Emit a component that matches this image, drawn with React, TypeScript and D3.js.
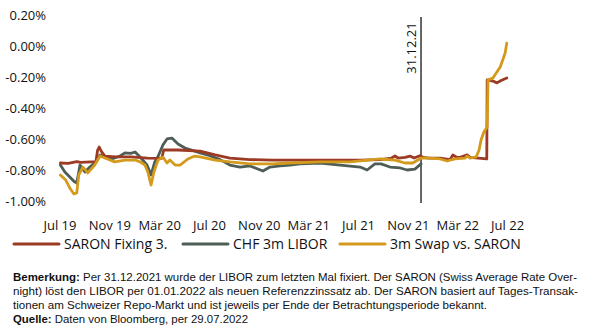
import React from "react";
import * as d3 from "d3";

const saronDates = ["2019-08-01","2019-08-20","2019-09-10","2019-09-20","2019-10-15","2019-10-27","2019-10-31","2019-11-04","2019-11-10","2019-11-18","2019-12-15","2020-01-20","2020-03-01","2020-04-05","2020-04-10","2020-05-15","2020-07-08","2020-08-14","2020-09-19","2020-11-07","2021-01-01","2021-04-28","2021-08-04","2021-09-22","2021-10-20","2021-10-28","2021-11-05","2021-11-22","2021-12-04","2021-12-14","2021-12-28","2022-01-05","2022-01-20","2022-02-16","2022-03-12","2022-03-19","2022-03-28","2022-04-06","2022-04-23","2022-04-30","2022-06-10","2022-06-11","2022-06-25","2022-07-05","2022-07-15","2022-07-29"];
const saronValues = [-0.742,-0.745,-0.733,-0.738,-0.735,-0.733,-0.66,-0.639,-0.67,-0.697,-0.703,-0.703,-0.71,-0.712,-0.658,-0.658,-0.665,-0.69,-0.71,-0.72,-0.723,-0.723,-0.723,-0.72,-0.71,-0.697,-0.71,-0.705,-0.697,-0.71,-0.695,-0.705,-0.71,-0.71,-0.72,-0.69,-0.705,-0.705,-0.69,-0.705,-0.716,-0.206,-0.213,-0.225,-0.21,-0.194];

const liborDates = ["2019-08-01","2019-08-12","2019-08-24","2019-09-03","2019-09-10","2019-09-15","2019-09-18","2019-09-30","2019-10-12","2019-10-27","2019-11-06","2019-11-18","2019-12-05","2019-12-25","2020-01-06","2020-01-20","2020-01-31","2020-02-12","2020-02-29","2020-03-10","2020-03-19","2020-03-27","2020-04-08","2020-04-18","2020-04-30","2020-05-15","2020-06-01","2020-06-25","2020-07-08","2020-08-01","2020-08-26","2020-09-19","2020-10-14","2020-11-07","2020-12-09","2020-12-26","2021-01-20","2021-02-13","2021-03-10","2021-04-28","2021-06-16","2021-08-04","2021-08-21","2021-09-09","2021-09-24","2021-10-16","2021-11-10","2021-11-27","2021-12-16","2021-12-31"];
const liborValues = [-0.755,-0.80,-0.832,-0.86,-0.871,-0.80,-0.755,-0.80,-0.768,-0.735,-0.69,-0.703,-0.716,-0.697,-0.677,-0.68,-0.671,-0.703,-0.755,-0.819,-0.735,-0.70,-0.626,-0.587,-0.581,-0.619,-0.645,-0.665,-0.677,-0.695,-0.72,-0.755,-0.768,-0.761,-0.794,-0.768,-0.761,-0.755,-0.748,-0.742,-0.755,-0.768,-0.787,-0.748,-0.748,-0.768,-0.774,-0.787,-0.781,-0.748];

const swapDates = ["2019-08-01","2019-08-14","2019-08-24","2019-09-03","2019-09-10","2019-09-15","2019-09-25","2019-10-07","2019-10-24","2019-11-06","2019-11-18","2019-12-12","2020-01-06","2020-01-31","2020-02-12","2020-02-24","2020-03-02","2020-03-10","2020-03-17","2020-03-27","2020-04-08","2020-04-18","2020-04-25","2020-05-08","2020-05-20","2020-06-08","2020-06-25","2020-07-08","2020-08-14","2020-09-19","2020-11-07","2021-01-01","2021-02-13","2021-04-28","2021-07-10","2021-09-22","2021-10-28","2021-11-22","2021-12-11","2021-12-31","2022-01-22","2022-02-16","2022-03-05","2022-03-24","2022-04-18","2022-04-23","2022-04-30","2022-05-15","2022-05-22","2022-05-27","2022-06-03","2022-06-11","2022-06-13","2022-06-25","2022-07-13","2022-07-25","2022-07-29"];
const swapValues = [-0.819,-0.852,-0.903,-0.942,-0.935,-0.819,-0.768,-0.806,-0.755,-0.697,-0.71,-0.735,-0.723,-0.723,-0.735,-0.755,-0.80,-0.884,-0.80,-0.723,-0.703,-0.742,-0.723,-0.755,-0.755,-0.716,-0.697,-0.703,-0.723,-0.735,-0.748,-0.748,-0.742,-0.735,-0.735,-0.716,-0.723,-0.742,-0.742,-0.71,-0.71,-0.716,-0.729,-0.716,-0.71,-0.697,-0.71,-0.703,-0.66,-0.594,-0.542,-0.510,-0.206,-0.194,-0.123,-0.032,0.032];

const seriesNames = ["SARON Fixing 3.", "CHF 3m LIBOR", "3m Swap vs. SARON"];
const seriesColors = ["#9C3A24", "#4E5D55", "#D39A1C"];

const yTicks = [-1.0, -0.8, -0.6, -0.4, -0.2, 0.0, 0.2];
const xTickDates = ["2019-07-31","2019-11-30","2020-03-31","2020-07-31","2020-11-30","2021-03-31","2021-07-31","2021-11-30","2022-03-31","2022-07-31"];
const xTickLabels = ["Jul 19","Nov 19","Mär 20","Jul 20","Nov 20","Mär 21","Jul 21","Nov 21","Mär 22","Jul 22"];
const markerDate = "2021-12-31";
const markerLabel = "31.12.21";

const noteLines = [
  { bold: "Bemerkung:", text: " Per 31.12.2021 wurde der LIBOR zum letzten Mal fixiert. Der SARON (Swiss Average Rate Over-" },
  { bold: "", text: "night) löst den LIBOR per 01.01.2022 als neuen Referenzzinssatz ab. Der SARON basiert auf Tages-Transak-" },
  { bold: "", text: "tionen am Schweizer Repo-Markt und ist jeweils per Ende der Betrachtungsperiode bekannt." },
  { bold: "Quelle:", text: " Daten von Bloomberg, per 29.07.2022" },
];

const parse = d3.timeParse("%Y-%m-%d");

export default function App() {
  const W = 594, H = 329;
  const x = d3.scaleTime().domain([parse("2019-07-31")!, parse("2022-07-31")!]).range([60, 507.6]);
  const y = d3.scaleLinear().domain([-1.0, 0.2]).range([203, 17]);
  const line = d3.line<[Date, number]>().x(d => x(d[0])).y(d => y(d[1])).curve(d3.curveLinear);

  const series = [
    saronDates.map((d, i) => [parse(d)!, saronValues[i]] as [Date, number]),
    liborDates.map((d, i) => [parse(d)!, liborValues[i]] as [Date, number]),
    swapDates.map((d, i) => [parse(d)!, swapValues[i]] as [Date, number]),
  ];
  const order = [1, 0, 2];
  const fmt = (v: number) => (v < 0 ? "-" : "") + Math.abs(v).toFixed(2) + "%";
  const mx = x(parse(markerDate)!);
  const font = "'Open Sans', 'Noto Sans', sans-serif";
  const narrow = "'Liberation Sans Narrow', 'Arial Narrow', 'Liberation Sans', Arial, sans-serif";

  const legendX = [14, 183, 340];
  const noteLens = [564, 565, 474, 235];

  return (
    <svg width={W} height={H} style={{ position: "absolute", left: 0, top: 0, background: "#fff" }}>
      {yTicks.map(t => (
        <text key={t} x={46} y={y(t)} textAnchor="end" dominantBaseline="middle" fontFamily={font} fontSize={13} fill="#111">
          {fmt(t)}
        </text>
      ))}
      {xTickDates.map((d, i) => (
        <text key={d} x={x(parse(d)!)} y={230} textAnchor="middle" fontFamily={font} fontSize={13} fill="#111">
          {xTickLabels[i]}
        </text>
      ))}
      <line x1={mx} x2={mx} y1={y(0.2)} y2={y(-1.0)} stroke="#000" strokeWidth={1.2} />
      <text transform={`translate(${mx - 5},${48}) rotate(-90)`} textAnchor="middle" fontFamily={font} fontSize={13} fill="#111">
        {markerLabel}
      </text>
      {order.map(i => (
        <path key={i} d={line(series[i]) || ""} fill="none" stroke={seriesColors[i]} strokeWidth={2.8} strokeLinejoin="round" strokeLinecap="round" />
      ))}
      {seriesNames.map((n, i) => (
        <g key={n}>
          <line x1={legendX[i]} x2={legendX[i] + 45} y1={244} y2={244} stroke={seriesColors[i]} strokeWidth={3} strokeLinecap="round" />
          <text x={legendX[i] + 50} y={249} fontFamily={font} fontSize={14} fill="#111">{n}</text>
        </g>
      ))}
      {noteLines.map((l, i) => (
        <text key={i} x={13} y={281 + i * 14} fontFamily={narrow} fontSize={11} fill="#111" textLength={noteLens[i]} lengthAdjust="spacingAndGlyphs">
          {l.bold && <tspan fontWeight="bold">{l.bold}</tspan>}
          <tspan>{l.text}</tspan>
        </text>
      ))}
    </svg>
  );
}
